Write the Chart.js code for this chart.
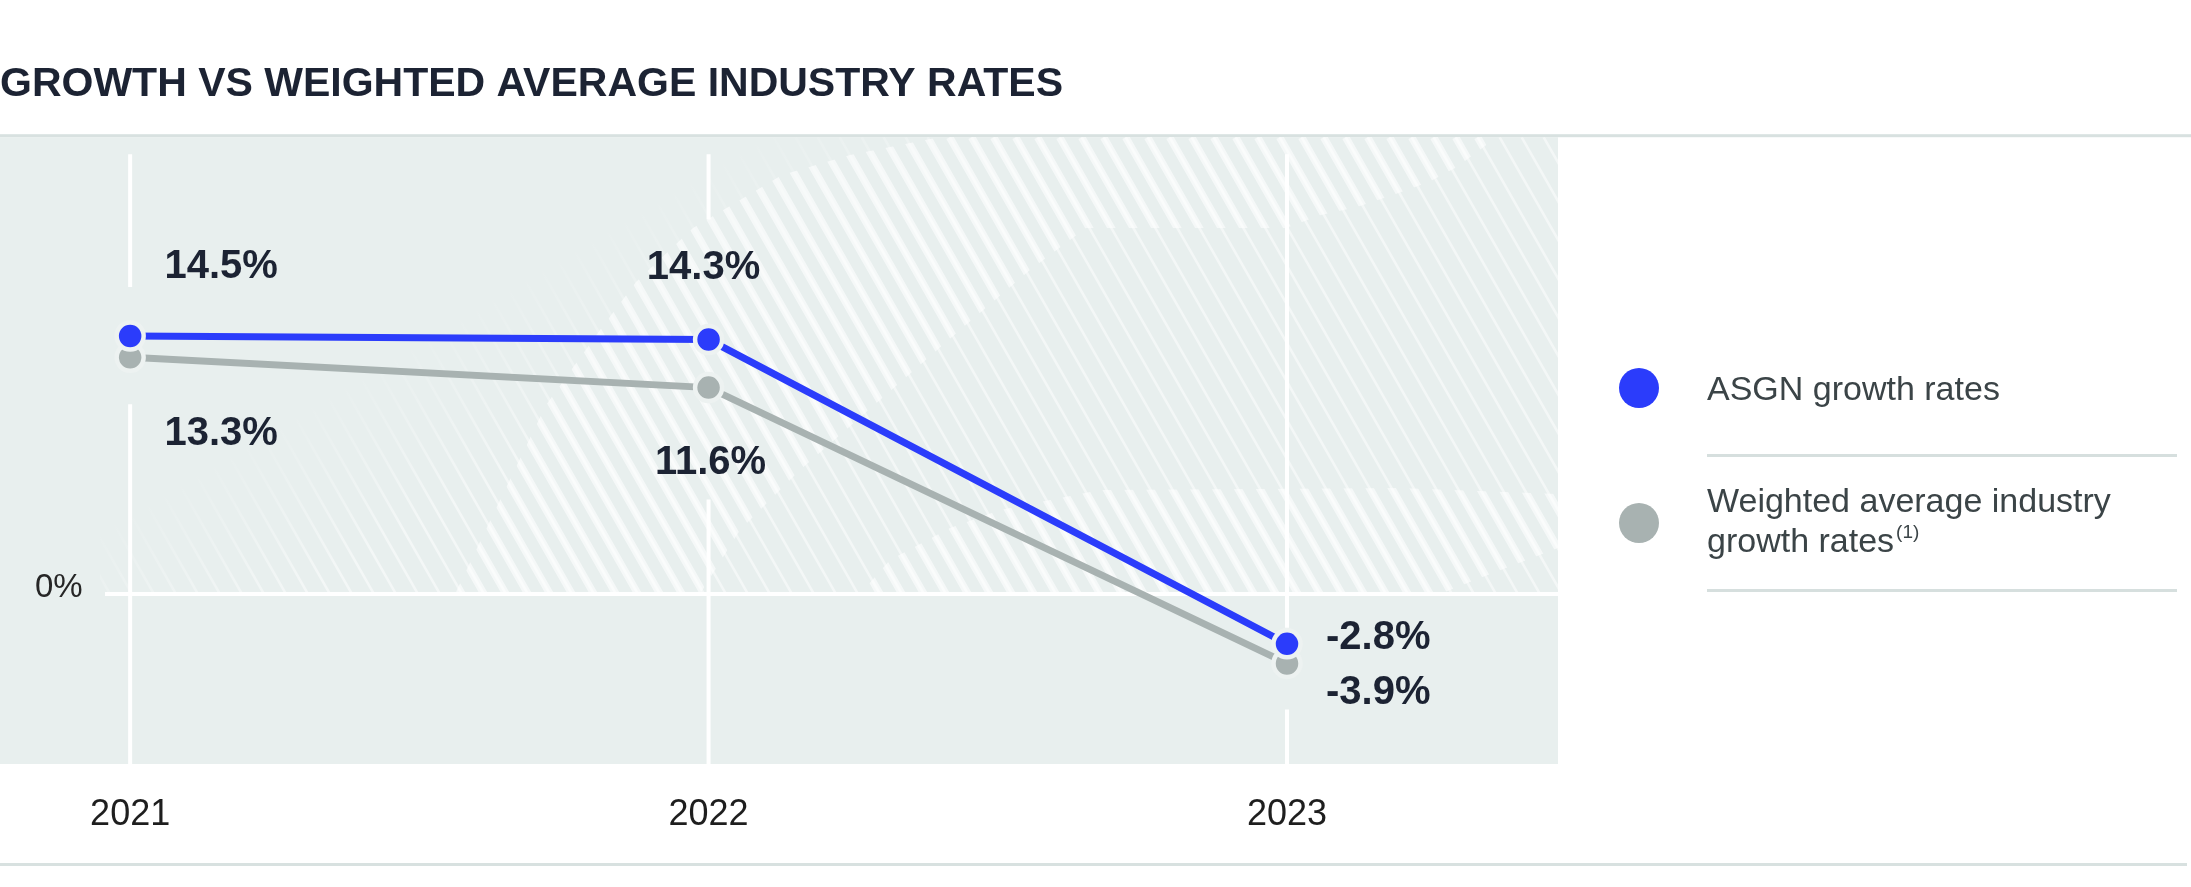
<!DOCTYPE html>
<html>
<head>
<meta charset="utf-8">
<script src="https://cdn.jsdelivr.net/npm/chart.js@4.4.0/dist/chart.umd.min.js"></script>
<style>
  html, body { margin: 0; padding: 0; background: #fff; }
  body { width: 2191px; height: 887px; position: relative; overflow: hidden; font-family: "Liberation Sans", Arial, sans-serif; }
  #growth { position: absolute; left: 0; top: 0; }
  .legend { position: absolute; left: 1707px; top: 322px; }
  .legend .txt { position: relative; width: 470px; height: 132px; display: flex; align-items: center;
    border-bottom: 3px solid #d6dfde; font-size: 34px; line-height: 40px; color: #3b4447; }
  .legend .dot { position: absolute; left: -88px; top: 50%; margin-top: -20px; width: 40px; height: 40px; border-radius: 50%; }
  .legend .note { font-size: 19px; position: relative; top: -14px; margin-left: 2px; }
</style>
</head>
<body>
<canvas id="growth" width="2191" height="887"></canvas>
<div class="legend" id="legend"></div>
<script>
// DATA
const years = [2021, 2022, 2023];
const seriesNames = ["ASGN growth rates", "Weighted average industry growth rates"];
const seriesNotes = ["", "(1)"];
const asgnRates = [14.5, 14.3, -2.8];
const industryRates = [13.3, 11.6, -3.9];
const yTicks = [0];

const BLUE = "#2b3cfb";
const GRAY = "#a8b2b1";
const PANEL = "#e8efee";
const INK = "#1c2333";
const FONT = "'Liberation Sans', Arial, sans-serif";

// where each value label sits next to its point: [dx, dy, align]
const labelPlace = [
    [[91, -69, "center"], [-5, -72, "center"], [39, -6, "left"]],
    [[91, 77, "center"], [2, 75, "center"], [39, 30, "left"]]
];
// gaps cut out of the vertical gridlines around the points: [above, below]
const gridGap = [[49, 47], [120, 112], [16, 46]];

// bright bands of the hatched background motif
const bandOuter = [[455, 594], [500, 500], [546, 405], [600, 330], [636, 282], [693, 228], [740, 200], [782, 175],
    [850, 155], [925, 140], [940, 137], [1495, 137], [1489, 143], [1457, 167], [1429, 182], [1393, 195], [1357, 207],
    [1321, 215], [1286, 228], [1086, 228], [1030, 270], [960, 330], [880, 400], [800, 470], [740, 530], [700, 594]];
const bandInner = [[860, 594], [890, 560], [950, 528], [1000, 510], [1100, 490], [1400, 488], [1558, 494],
    [1558, 548], [1480, 578], [1440, 594]];

function stripes(ctx, a, bottom, width, step) {
    const lean = 0.57 * (bottom - a.top);
    ctx.beginPath();
    for (let x = a.left - lean; x < a.right + step; x += step) {
        ctx.moveTo(x, a.top);
        ctx.lineTo(x + lean, bottom);
    }
    ctx.lineWidth = width;
    ctx.stroke();
}

function polyClip(ctx, pts) {
    ctx.beginPath();
    pts.forEach(([x, y], i) => i ? ctx.lineTo(x, y) : ctx.moveTo(x, y));
    ctx.closePath();
    ctx.clip();
}

const panelPlugin = {
    id: "panel",
    beforeDraw(chart) {
        const { ctx, chartArea: a, width } = chart;
        const zeroY = chart.scales.y.getPixelForValue(0);
        ctx.save();
        ctx.fillStyle = "#d8e1e0";
        ctx.fillRect(0, a.top - 3, width, 3);
        ctx.fillRect(0, 863, width - 4, 3);
        ctx.fillStyle = PANEL;
        ctx.fillRect(a.left, a.top, a.right - a.left, a.bottom - a.top);

        // thin hatch, fading out toward the upper left
        ctx.save();
        ctx.beginPath();
        ctx.rect(a.left + 100, a.top, a.right - a.left - 100, zeroY - a.top);
        ctx.clip();
        const g = ctx.createLinearGradient(445, 321, 527, 459);
        g.addColorStop(0, "rgba(255,255,255,0)");
        g.addColorStop(1, "rgba(255,255,255,0.5)");
        ctx.strokeStyle = g;
        stripes(ctx, a, zeroY, 2.6, 22);
        ctx.restore();

        // brighter, thicker hatch in the two swoosh bands
        [bandOuter, bandInner].forEach(band => {
            ctx.save();
            polyClip(ctx, band);
            ctx.strokeStyle = "rgba(255,255,255,0.58)";
            stripes(ctx, a, zeroY, 7.5, 22);
            ctx.restore();
        });
        ctx.restore();
    },
    beforeDatasetsDraw(chart) {
        const { ctx, chartArea: a } = chart;
        const xs = chart.scales.x, ys = chart.scales.y;
        ctx.save();
        ctx.strokeStyle = "#ffffff";
        ctx.lineWidth = 4;
        years.forEach((yr, i) => {
            const px = xs.getPixelForValue(yr);
            const pys = chart.data.datasets.map(d => ys.getPixelForValue(d.data[i].y));
            const top = Math.min(...pys) - gridGap[i][0];
            const bot = Math.max(...pys) + gridGap[i][1];
            ctx.beginPath();
            ctx.moveTo(px, a.top + 17);
            ctx.lineTo(px, top);
            ctx.moveTo(px, bot);
            ctx.lineTo(px, a.bottom);
            ctx.stroke();
        });
        yTicks.forEach(v => {
            const py = ys.getPixelForValue(v);
            ctx.beginPath();
            ctx.moveTo(a.left + 105, py);
            ctx.lineTo(a.right, py);
            ctx.stroke();
        });
        ctx.restore();
    },
    afterDatasetsDraw(chart) {
        const ctx = chart.ctx;
        ctx.save();
        ctx.fillStyle = INK;
        ctx.font = "bold 40px " + FONT;
        ctx.textBaseline = "middle";
        chart.data.datasets.forEach((ds, d) => {
            chart.getDatasetMeta(d).data.forEach((pt, i) => {
                const [dx, dy, align] = labelPlace[d][i];
                ctx.textAlign = align;
                ctx.fillText(ds.data[i].y.toFixed(1) + "%", pt.x + dx, pt.y + dy);
            });
        });
        ctx.restore();
    }
};

function series(name, values, color) {
    return {
        label: name,
        data: years.map((yr, i) => ({ x: yr, y: values[i] })),
        borderColor: color,
        backgroundColor: color,
        borderWidth: 7,
        pointRadius: 13.5,
        pointBorderWidth: 4.5,
        pointBorderColor: "#edf2f1",
        pointBackgroundColor: color,
        tension: 0,
        clip: false
    };
}

new Chart(document.getElementById("growth"), {
    type: "line",
    data: {
        datasets: [
            series(seriesNames[0], asgnRates, BLUE),
            series(seriesNames[1], industryRates, GRAY)
        ]
    },
    options: {
        responsive: false,
        animation: false,
        devicePixelRatio: 1,
        layout: { autoPadding: false, padding: { left: 0, right: 633, top: 0, bottom: 0 } },
        plugins: {
            legend: { display: false },
            tooltip: { enabled: false },
            title: {
                display: true,
                text: "GROWTH VS WEIGHTED AVERAGE INDUSTRY RATES",
                align: "start",
                color: INK,
                font: { family: FONT, size: 41, weight: "bold" },
                padding: { top: 60, bottom: 28 }
            }
        },
        scales: {
            x: {
                type: "linear",
                min: 2020.775,
                max: 2023.4685,
                afterBuildTicks: s => { s.ticks = years.map(v => ({ value: v })); },
                afterFit: s => { s.height = 123; },
                grid: { display: false, drawTicks: false },
                border: { display: false },
                ticks: { padding: 29, color: "#1e1e1e", font: { family: FONT, size: 36 }, callback: v => String(v) }
            },
            y: {
                min: -9.55,
                max: 25.67,
                afterBuildTicks: s => { s.ticks = yTicks.map(v => ({ value: v })); },
                afterFit: s => { s.width = 0; },
                grid: { display: false, drawTicks: false },
                border: { display: false },
                ticks: { mirror: true, padding: 35, labelOffset: -6, color: "#262626", font: { family: FONT, size: 33 }, callback: v => v + "%" }
            }
        }
    },
    plugins: [panelPlugin]
});

// HTML legend
const colors = [BLUE, GRAY];
document.getElementById("legend").innerHTML = seriesNames.map((name, i) =>
    '<div class="txt"><span class="dot" style="background:' + colors[i] + '"></span><div>' + name +
    (seriesNotes[i] ? '<span class="note">' + seriesNotes[i] + '</span>' : '') + '</div></div>'
).join("");
</script>
</body>
</html>
